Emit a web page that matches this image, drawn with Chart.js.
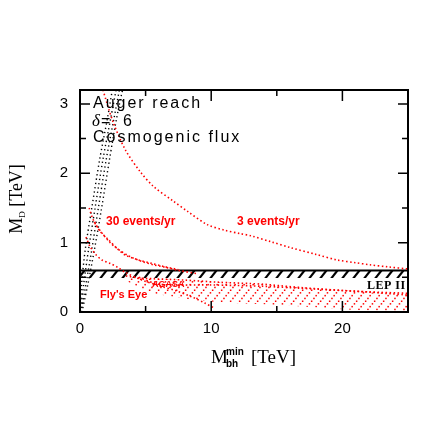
<!DOCTYPE html>
<html lang="en">
<head>
    <meta charset="UTF-8">
    <title>Auger reach - black hole production</title>
    <script src="https://cdn.jsdelivr.net/npm/chart.js"></script>
    <style>
        body {
            margin: 0;
            padding: 0;
            background: #ffffff;
        }

        .wrap {
            width: 431px;
            height: 431px;
        }
    </style>
</head>
<body>

<div class="wrap">
    <canvas id="reach" width="431" height="431"></canvas>
</div>

<script>
    // tick labels
    const xTickLabels = [0, 10, 20];
    const yTickLabels = [0, 1, 2, 3];

    // 3 events/yr
    const threeEvX = [1.75, 2.5, 3.45, 4.6, 5.6, 7.1, 8.2, 9.7, 11, 12.2, 13, 14.6, 16, 18, 19.6, 21, 22.1, 23.5, 25];
    const threeEvY = [3.2, 2.75, 2.34, 2.02, 1.81, 1.6, 1.45, 1.26, 1.18, 1.13, 1.1, 1.01, 0.93, 0.83, 0.75, 0.71, 0.68, 0.65, 0.62];

    // 30 events/yr (drawn as a double dotted line)
    const thirtyAX = [0.7, 0.9, 1.2, 1.67, 2.3, 2.94, 3.8, 4.72, 5.6, 6.5, 7.5, 9];
    const thirtyAY = [1.5, 1.38, 1.26, 1.14, 1.0, 0.9, 0.8, 0.73, 0.68, 0.645, 0.6, 0.55];
    const thirtyBX = [1.1, 1.5, 2.18, 2.8, 3.45, 4.46, 5.48, 6.3, 7.5];
    const thirtyBY = [1.3, 1.17, 1.04, 0.92, 0.82, 0.75, 0.7, 0.66, 0.61];

    // Fly's Eye bound
    const flyX = [0.45, 0.78, 1.2, 1.67, 2.3, 2.9, 3.45, 4.72, 6, 7.26, 8.5, 9.5, 10.3];
    const flyY = [1.08, 0.94, 0.83, 0.75, 0.7, 0.64, 0.57, 0.46, 0.38, 0.31, 0.22, 0.13, 0.05];

    // AGASA bound
    const agasaX = [4.5, 6, 10, 14, 18, 22, 25];
    const agasaY = [0.5, 0.4, 0.39, 0.37, 0.33, 0.29, 0.27];

    // excluded (hatched) region
    const hatchX = [3.5, 4.5, 5.5, 8, 10.5, 13, 14, 17, 20, 21, 25];
    const hatchTop = [0.52, 0.49, 0.48, 0.46, 0.43, 0.41, 0.4, 0.35, 0.31, 0.3, 0.245];
    const hatchBottom = [0.45, 0.35, 0.27, 0.19, 0.14, 0.12, 0.11, 0.08, 0.04, 0.03, 0.01];

    // LEP II limit
    const lepX = [0, 25];
    const lepTop = [0.6, 0.6];
    const lepBottom = [0.49, 0.49];

    // Auger reach (black dotted)
    const augerY = [0, 0.4, 0.9, 1.5, 2.2, 2.8, 3.3];
    const augerAX = [0, 0.12, 0.4, 0.9, 1.5, 2.1, 2.55];
    const augerBX = [0.03, 0.28, 0.65, 1.15, 1.75, 2.35, 2.85];
    const augerCX = [0.08, 0.45, 0.9, 1.4, 2.0, 2.6, 3.1];
    const augerDX = [0.15, 0.6, 1.1, 1.65, 2.25, 2.8, 3.35];

    function pts(xs, ys) {
        return xs.map((x, i) => ({ x: x, y: ys[i] }));
    }

    const canvas = document.getElementById('reach');
    const ctx = canvas.getContext('2d');

    // black "/" hatching for LEP II
    function blackHatch() {
        const c = document.createElement('canvas');
        c.width = 11;
        c.height = 14;
        const g = c.getContext('2d');
        g.strokeStyle = '#000';
        g.lineWidth = 2.2;
        for (let k = -1; k <= 1; k++) {
            g.beginPath();
            g.moveTo(k * 11, 14);
            g.lineTo(k * 11 + 11, 0);
            g.stroke();
        }
        return ctx.createPattern(c, 'repeat');
    }

    // red dotted "/" hatching
    function redHatch() {
        const c = document.createElement('canvas');
        c.width = 9;
        c.height = 11;
        const g = c.getContext('2d');
        g.fillStyle = 'rgb(255,0,0)';
        [[1.1, 9.6], [3.4, 6.8], [5.6, 4.2], [7.9, 1.4]].forEach(p => g.fillRect(p[0] - 0.7, p[1] - 0.7, 1.5, 1.5));
        return ctx.createPattern(c, 'repeat');
    }

    const redDot = { borderColor: 'rgb(255,0,0)', borderWidth: 1.6, borderDash: [1.5, 2.5], pointRadius: 0, fill: false, tension: 0.3 };
    const blackDot = { borderColor: '#000', borderWidth: 1.4, borderDash: [1.3, 3], pointRadius: 0, fill: false, tension: 0.3 };
    const hidden = { showLine: true, borderWidth: 0, borderColor: 'rgba(0,0,0,0)', pointRadius: 0, fill: false };

    const datasets = [
        Object.assign({}, redDot, { data: pts(hatchX, hatchTop), showLine: true, fill: '+1', backgroundColor: redHatch() }),
        Object.assign({}, hidden, { data: pts(hatchX, hatchBottom) }),
        Object.assign({ data: pts(agasaX, agasaY), showLine: true }, redDot),
        Object.assign({ data: pts(flyX, flyY), showLine: true }, redDot),
        Object.assign({ data: pts(thirtyAX, thirtyAY), showLine: true }, redDot),
        Object.assign({ data: pts(thirtyBX, thirtyBY), showLine: true }, redDot),
        Object.assign({ data: pts(threeEvX, threeEvY), showLine: true }, redDot),
        { data: pts(lepX, lepTop), showLine: true, borderColor: '#000', borderWidth: 2, pointRadius: 0, fill: '+1', backgroundColor: blackHatch() },
        Object.assign({}, hidden, { data: pts(lepX, lepBottom) }),
        Object.assign({ data: pts(augerAX, augerY), showLine: true }, blackDot),
        Object.assign({ data: pts(augerBX, augerY), showLine: true }, blackDot),
        Object.assign({ data: pts(augerCX, augerY), showLine: true }, blackDot),
        Object.assign({ data: pts(augerDX, augerY), showLine: true }, blackDot),
    ];

    // frame, inward ticks, labels and axis titles
    const decor = {
        id: 'decor',
        afterDraw(chart) {
            const c = chart.ctx;
            const a = chart.chartArea;
            const xs = chart.scales.x;
            const ys = chart.scales.y;
            c.save();
            c.strokeStyle = '#000';
            c.lineWidth = 2;
            c.strokeRect(a.left, a.top, a.right - a.left, a.bottom - a.top);

            c.lineWidth = 1.5;
            for (let v = 0; v <= 25; v += 5) {
                const px = xs.getPixelForValue(v);
                const len = v % 10 === 0 ? 11 : 6;
                c.beginPath();
                c.moveTo(px, a.bottom); c.lineTo(px, a.bottom - len);
                c.moveTo(px, a.top); c.lineTo(px, a.top + len);
                c.stroke();
            }
            for (let v = 0; v <= 3; v += 0.5) {
                const py = ys.getPixelForValue(v);
                const len = v % 1 === 0 ? 10 : 6;
                c.beginPath();
                c.moveTo(a.left, py); c.lineTo(a.left + len, py);
                c.moveTo(a.right, py); c.lineTo(a.right - len, py);
                c.stroke();
            }

            // header text
            c.fillStyle = '#000';
            c.textBaseline = 'alphabetic';
            c.textAlign = 'left';
            c.font = '16px "Liberation Sans"';
            c.letterSpacing = '2px';
            c.fillText('Auger reach', 93, 108);
            c.fillText('Cosmogenic flux', 93, 142);
            c.fillText('=', 101, 125.5);
            c.fillText('6', 123, 125.5);
            c.letterSpacing = '0px';
            c.font = 'italic 17px "Liberation Serif"';
            c.fillText('δ', 92, 125.5);

            // curve labels
            c.textBaseline = 'middle';
            c.fillStyle = 'rgb(255,0,0)';
            c.font = 'bold 12px "Liberation Sans"';
            c.fillText('30 events/yr', 106, 222);
            c.fillText('3 events/yr', 237, 222);
            c.font = 'bold 11px "Liberation Sans"';
            c.fillText("Fly's Eye", 100, 295);
            c.font = 'bold 9px "Liberation Sans"';
            c.fillText('AGASA', 152, 285);
            c.fillStyle = '#000';
            c.font = 'bold 12px "Liberation Serif"';
            c.letterSpacing = '0.5px';
            c.fillText('LEP II', 367, 286);
            c.letterSpacing = '0px';

            // x axis title
            c.textBaseline = 'alphabetic';
            c.font = '19px "Liberation Serif"';
            c.fillText('M', 211, 363);
            c.font = 'bold 10px "Liberation Sans"';
            c.fillText('min', 226, 355);
            c.fillText('bh', 226, 367);
            c.font = '19px "Liberation Serif"';
            c.fillText('[TeV]', 251, 363);

            // y axis title
            c.translate(22, 199);
            c.rotate(-Math.PI / 2);
            c.textAlign = 'left';
            c.font = '18px "Liberation Serif"';
            const wM = c.measureText('M').width;
            c.font = '9px "Liberation Serif"';
            const wD = c.measureText('D').width;
            c.font = '18px "Liberation Serif"';
            const wT = c.measureText(' [TeV]').width;
            let x0 = -(wM + wD + wT) / 2;
            c.fillText('M', x0, 0);
            c.font = '9px "Liberation Serif"';
            c.fillText('D', x0 + wM, 3);
            c.font = '18px "Liberation Serif"';
            c.fillText(' [TeV]', x0 + wM + wD, 0);
            c.restore();
        }
    };

    new Chart(ctx, {
        type: 'scatter',
        data: { datasets: datasets },
        options: {
            responsive: false,
            animation: false,
            layout: { padding: { left: 0, right: 23, top: 90, bottom: 0 } },
            plugins: {
                legend: { display: false },
                tooltip: { enabled: false }
            },
            scales: {
                x: {
                    type: 'linear',
                    min: 0,
                    max: 25,
                    afterFit: s => { s.height = 119; },
                    afterBuildTicks: s => { s.ticks = xTickLabels.map(v => ({ value: v })); },
                    grid: { display: false, drawTicks: false },
                    border: { display: false },
                    ticks: {
                        padding: 8,
                        color: '#000',
                        font: { family: 'Liberation Sans', size: 15 }
                    }
                },
                y: {
                    type: 'linear',
                    min: 0,
                    max: 3.2,
                    afterFit: s => { s.width = 80; },
                    afterBuildTicks: s => { s.ticks = yTickLabels.map(v => ({ value: v })); },
                    grid: { display: false, drawTicks: false },
                    border: { display: false },
                    ticks: {
                        padding: 12,
                        color: '#000',
                        font: { family: 'Liberation Sans', size: 15 }
                    }
                }
            }
        },
        plugins: [decor]
    });
</script>
</body>
</html>
